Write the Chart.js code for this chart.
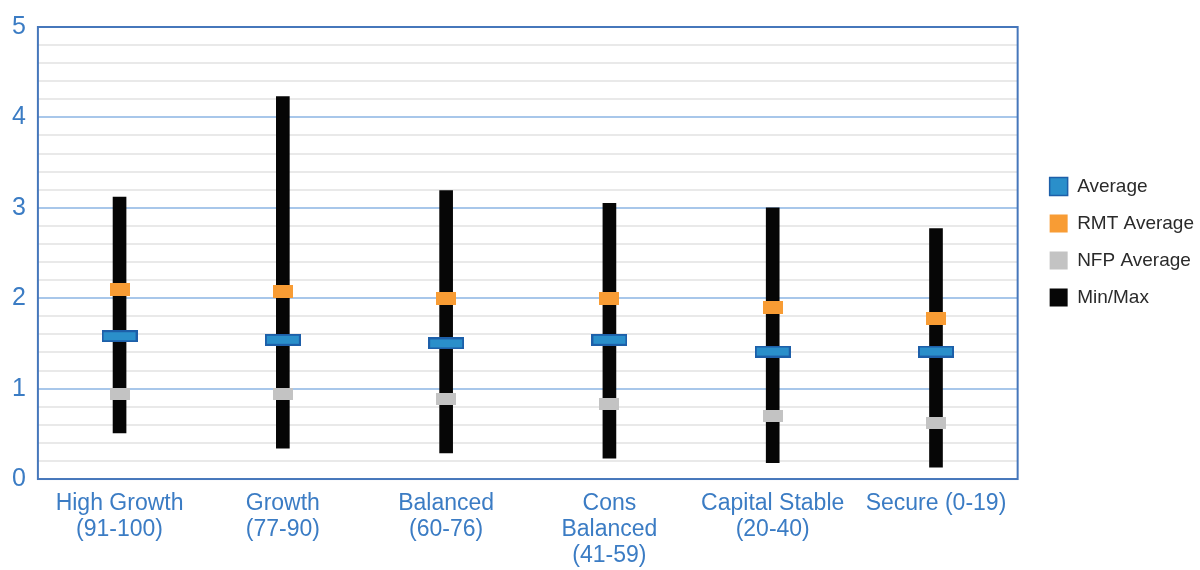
<!DOCTYPE html>
<html>
<head>
<meta charset="utf-8">
<script src="https://cdn.jsdelivr.net/npm/chart.js@4.4.1/dist/chart.umd.min.js"></script>
<style>
  html, body { margin: 0; padding: 0; background: #ffffff; }
  #wrap { width: 1200px; height: 570px; position: relative; }
</style>
</head>
<body>
<div id="wrap"><canvas id="c" width="1200" height="570"></canvas></div>
<script>
// ---- data ----
const categories = [
  ["High Growth", "(91-100)"],
  ["Growth", "(77-90)"],
  ["Balanced", "(60-76)"],
  ["Cons", "Balanced", "(41-59)"],
  ["Capital Stable", "(20-40)"],
  ["Secure (0-19)"]
];
const averageValues = [1.58, 1.54, 1.50, 1.54, 1.41, 1.41];
const rmtAverageValues = [2.10, 2.07, 2.00, 2.00, 1.90, 1.78];
const nfpAverageValues = [0.94, 0.94, 0.89, 0.83, 0.70, 0.62];
const minValues = [0.51, 0.34, 0.29, 0.23, 0.18, 0.13];
const maxValues = [3.12, 4.23, 3.19, 3.05, 3.00, 2.77];
const seriesNames = ["Average", "RMT Average", "NFP Average", "Min/Max"];
const yTicks = { min: 0, max: 5, minorStep: 0.2 };

// ---- marker images ----
function makeMarker(w, h, fill, stroke) {
  const cv = document.createElement('canvas');
  cv.width = w; cv.height = h;
  const g = cv.getContext('2d');
  g.fillStyle = fill;
  g.fillRect(0, 0, w, h);
  if (stroke) {
    g.strokeStyle = stroke;
    g.lineWidth = 2;
    g.strokeRect(1, 1, w - 2, h - 2);
  }
  return cv;
}
const blueMarker = makeMarker(36, 12, '#2a8fca', '#1d5fa9');
const orangeMarker = makeMarker(20, 13, '#f89c34', null);
const grayMarker = makeMarker(20, 12, '#c3c3c3', null);

const FONT = "'Liberation Sans', Arial, sans-serif";
const isInt = v => Math.abs(v - Math.round(v)) < 1e-6;

const frame = {
  id: 'frame',
  afterLayout(chart) {
    // nudge the legend block to where it sits in the reference
    const lg = chart.legend;
    if (lg) {
      lg.left += 14; lg.right += 14;
      lg.top -= 11; lg.bottom -= 11;
    }
  },
  beforeDatasetsDraw(chart) {
    const a = chart.chartArea, ctx = chart.ctx;
    ctx.save();
    ctx.strokeStyle = '#4677bb';
    ctx.lineWidth = 2;
    ctx.strokeRect(a.left, a.top, a.right - a.left, a.bottom - a.top);
    ctx.restore();
  }
};

new Chart(document.getElementById('c'), {
  type: 'bar',
  data: {
    labels: categories,
    datasets: [
      {
        type: 'line', label: seriesNames[0], data: averageValues,
        showLine: false, pointStyle: blueMarker,
        backgroundColor: '#2a8fca', borderColor: '#1d5fa9', borderWidth: 1.5
      },
      {
        type: 'line', label: seriesNames[1], data: rmtAverageValues,
        showLine: false, pointStyle: orangeMarker,
        backgroundColor: '#f89c34', borderColor: '#f89c34', borderWidth: 0
      },
      {
        type: 'line', label: seriesNames[2], data: nfpAverageValues,
        showLine: false, pointStyle: grayMarker,
        backgroundColor: '#c3c3c3', borderColor: '#c3c3c3', borderWidth: 0
      },
      {
        type: 'bar', label: seriesNames[3],
        data: minValues.map((m, i) => [m, maxValues[i]]),
        backgroundColor: '#060606', borderWidth: 0, barThickness: 13
      }
    ]
  },
  options: {
    responsive: false,
    animation: false,
    layout: { padding: { left: 0, right: 10, top: 16, bottom: -11 } },
    plugins: {
      title: { display: false },
      tooltip: { enabled: false },
      legend: {
        position: 'right',
        align: 'center',
        fullSize: false,
        labels: {
          boxWidth: 18, boxHeight: 18, padding: 18,
          color: '#2a2a2a',
          font: { family: FONT, size: 19 }
        }
      }
    },
    scales: {
      x: {
        grid: { display: false, drawTicks: false },
        border: { display: false },
        ticks: {
          color: '#3b7cc4', padding: 12, maxRotation: 0, autoSkip: false,
          font: { family: FONT, size: 23, lineHeight: 1.13 }
        }
      },
      y: {
        min: yTicks.min, max: yTicks.max,
        grid: {
          drawTicks: false,
          color: c => isInt(c.tick.value) ? '#a8c7ea' : '#e9e9e9',
          lineWidth: 2
        },
        border: { display: false },
        ticks: {
          stepSize: yTicks.minorStep, autoSkip: false, padding: 12,
          color: '#3b7cc4',
          font: { family: FONT, size: 25 },
          callback: v => isInt(v) ? String(Math.round(v)) : ''
        }
      }
    }
  },
  plugins: [frame]
});
</script>
</body>
</html>
